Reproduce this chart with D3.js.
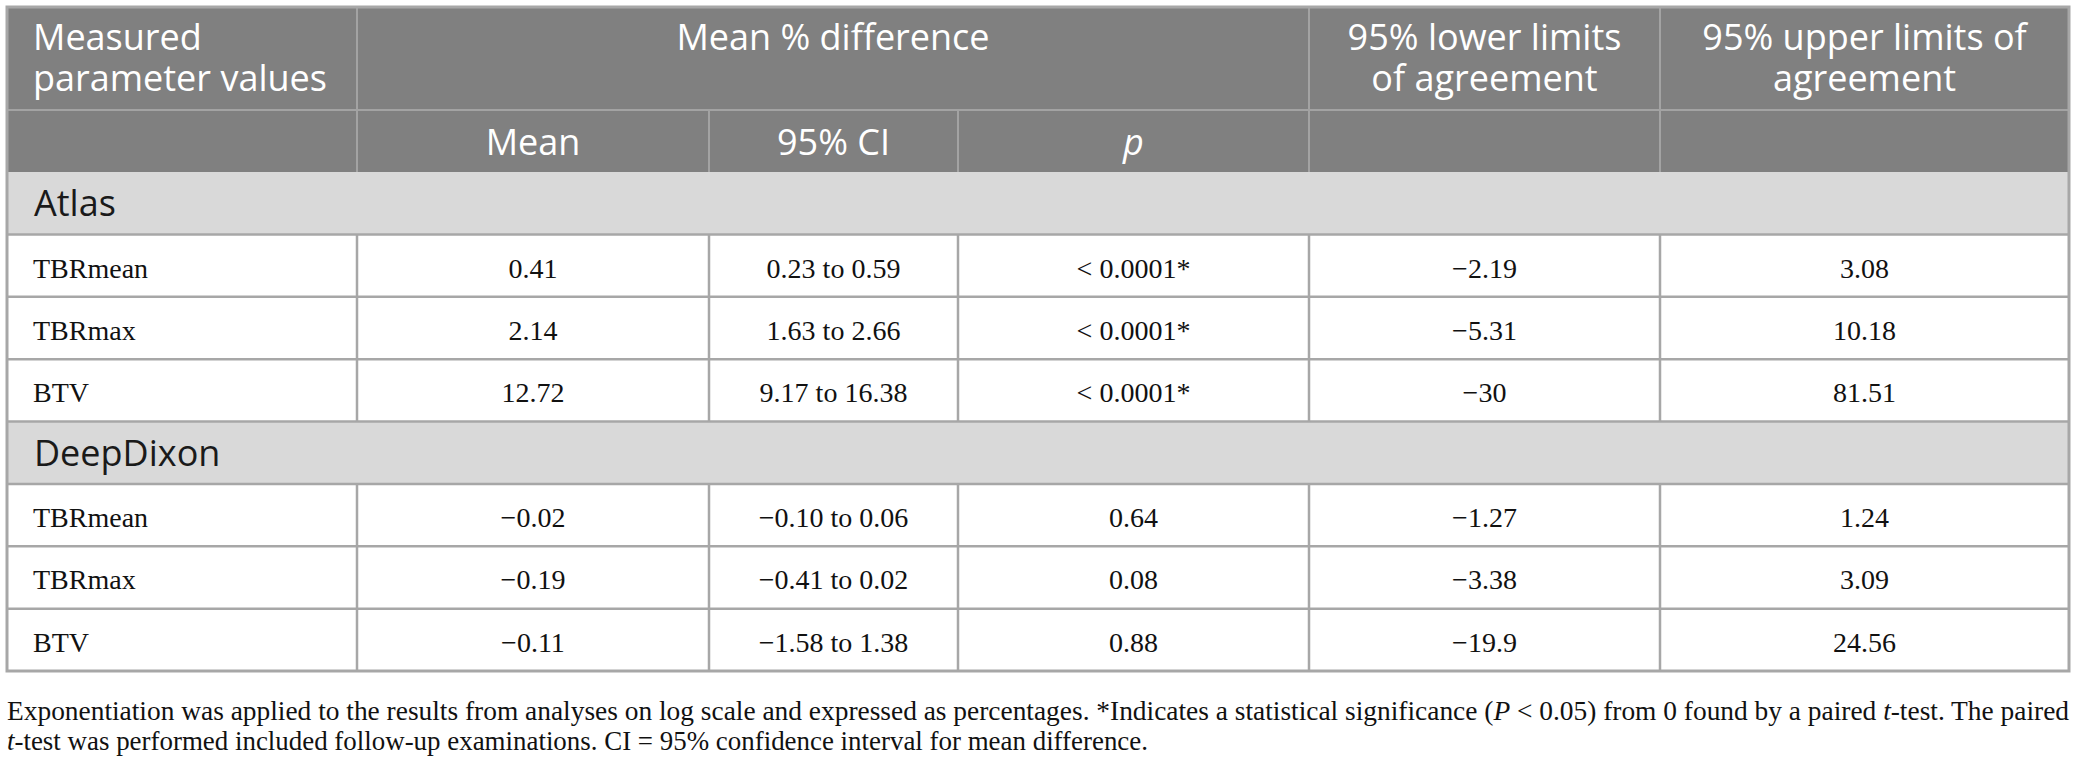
<!DOCTYPE html>
<html>
<head>
<meta charset="utf-8">
<script src="https://cdn.jsdelivr.net/npm/d3@7"></script>
<style>
  body { margin: 0; background: #fff; }
  svg { display: block; }
</style>
</head>
<body>
<div id="table1"></div>
<script>
// table data
var groups = ["Atlas", "DeepDixon"];
var params = ["TBRmean", "TBRmax", "BTV"];
var meanDiff = [[0.41, 2.14, 12.72], [-0.02, -0.19, -0.11]];
var ciLow = [[0.23, 1.63, 9.17], [-0.10, -0.41, -1.58]];
var ciHigh = [[0.59, 2.66, 16.38], [0.06, 0.02, 1.38]];
var pValues = [["< 0.0001*", "< 0.0001*", "< 0.0001*"], ["0.64", "0.08", "0.88"]];
var lowerLoA = [[-2.19, -5.31, -30], [-1.27, -3.38, -19.9]];
var upperLoA = [[3.08, 10.18, 81.51], [1.24, 3.09, 24.56]];

var headerTop = [["Measured", "parameter values"], ["Mean % difference"], ["95% lower limits", "of agreement"], ["95% upper limits of", "agreement"]];
var headerSub = ["", "Mean", "95% CI", "p", "", ""];

var width = 2078, height = 762;
var colWidths = [350, 352, 249, 351, 351, 409];
var tLeft = 7, tTop = 7, headMid = 110, headBottom = 172, tBottom = 671;
var edges = [tLeft].concat(Array.from(d3.cumsum(colWidths), d => d + tLeft));
var tRight = edges[edges.length - 1];

var sans = "'Open Sans', 'Noto Sans', sans-serif";
var serif = "'Liberation Serif', 'DejaVu Serif', serif";
var lineCol = "#a7a7a7";

// format numbers with a real minus sign, keeping the decimals as printed
function fmt(v) {
  var s = String(Math.abs(v));
  if (Math.abs(v) === 0.1) s = "0.10";
  return (v < 0 ? "\u2212" : "") + s;
}

// build rows: group label rows and data rows
var rows = [];
groups.forEach(function(g, gi) {
  rows.push({type: "group", label: g});
  params.forEach(function(p, pi) {
    rows.push({type: "data", cells: [
      p,
      fmt(meanDiff[gi][pi]),
      fmt(ciLow[gi][pi]) + " to " + fmt(ciHigh[gi][pi]),
      pValues[gi][pi],
      fmt(lowerLoA[gi][pi]),
      fmt(upperLoA[gi][pi])
    ]});
  });
});

var y = d3.scaleBand()
    .domain(d3.range(rows.length))
    .range([headBottom, tBottom]);

var svg = d3.select("#table1").append("svg")
    .attr("width", width)
    .attr("height", height);

// header background
svg.append("rect")
    .attr("x", tLeft).attr("y", tTop)
    .attr("width", tRight - tLeft).attr("height", headBottom - tTop)
    .attr("fill", "#808080");

// group rows background
svg.selectAll("rect.grp")
    .data(rows.map((r, i) => ({r: r, i: i})).filter(d => d.r.type == "group"))
    .join("rect")
    .attr("class", "grp")
    .attr("x", tLeft)
    .attr("y", d => y(d.i))
    .attr("width", tRight - tLeft)
    .attr("height", y.bandwidth())
    .attr("fill", "#d9d9d9");

// header lines
var hl = "#a3a3a3";
svg.append("line").attr("x1", tLeft).attr("x2", tRight).attr("y1", headMid).attr("y2", headMid)
    .attr("stroke", hl).attr("stroke-width", 2);
[1, 4, 5].forEach(function(k) {
  svg.append("line").attr("x1", edges[k]).attr("x2", edges[k]).attr("y1", tTop).attr("y2", headMid)
      .attr("stroke", hl).attr("stroke-width", 2);
});
edges.slice(1, -1).forEach(function(e) {
  svg.append("line").attr("x1", e).attr("x2", e).attr("y1", headMid).attr("y2", headBottom)
      .attr("stroke", hl).attr("stroke-width", 2);
});

// header text row 1
var headCenters = [null, (edges[1] + edges[4]) / 2, (edges[4] + edges[5]) / 2, (edges[5] + edges[6]) / 2];
headerTop.forEach(function(lines, k) {
  var t = svg.append("text")
      .attr("font-family", sans).attr("font-size", 36).attr("fill", "#fff")
      .attr("text-anchor", k == 0 ? "start" : "middle");
  lines.forEach(function(l, j) {
    t.append("tspan")
        .attr("x", k == 0 ? 33 : headCenters[k])
        .attr("y", 50 + j * 41)
        .text(l);
  });
});

// header text row 2
svg.selectAll("text.sub")
    .data(headerSub)
    .join("text")
    .attr("class", "sub")
    .attr("x", (d, i) => (edges[i] + edges[i + 1]) / 2)
    .attr("y", 155)
    .attr("text-anchor", "middle")
    .attr("font-family", sans).attr("font-size", 36).attr("fill", "#fff")
    .attr("font-style", d => d == "p" ? "italic" : "normal")
    .text(d => d);

// body lines
var rowEdges = d3.range(rows.length + 1).map(i => i < rows.length ? y(i) : y.range()[1]);
rowEdges.slice(1, -1).forEach(function(ry) {
  svg.append("line").attr("x1", tLeft).attr("x2", tRight).attr("y1", ry).attr("y2", ry)
      .attr("stroke", lineCol).attr("stroke-width", 2.5);
});
rows.forEach(function(r, i) {
  if (r.type != "data") return;
  edges.slice(1, -1).forEach(function(e) {
    svg.append("line").attr("x1", e).attr("x2", e).attr("y1", y(i)).attr("y2", y(i) + y.bandwidth())
        .attr("stroke", lineCol).attr("stroke-width", 2.5);
  });
});

// outer border
svg.append("rect")
    .attr("x", tLeft).attr("y", tTop)
    .attr("width", tRight - tLeft).attr("height", tBottom - tTop)
    .attr("fill", "none").attr("stroke", lineCol).attr("stroke-width", 3);

// group labels
rows.forEach(function(r, i) {
  if (r.type != "group") return;
  svg.append("text")
      .attr("x", 34).attr("y", y(i) + y.bandwidth() / 2 + 13)
      .attr("font-family", sans).attr("font-size", 36).attr("fill", "#1a1a1a")
      .text(r.label);
});

// data cells
rows.forEach(function(r, i) {
  if (r.type != "data") return;
  svg.selectAll(null)
      .data(r.cells)
      .join("text")
      .attr("x", (d, k) => k == 0 ? 33 : (edges[k] + edges[k + 1]) / 2)
      .attr("y", y(i) + y.bandwidth() / 2 + 12)
      .attr("text-anchor", (d, k) => k == 0 ? "start" : "middle")
      .attr("font-family", serif).attr("font-size", 28).attr("fill", "#111")
      .text(d => d);
});

// footnote
var foot1 = svg.append("text")
    .attr("x", 7).attr("y", 720)
    .attr("font-family", serif).attr("font-size", 28).attr("fill", "#111")
    .attr("textLength", 2062).attr("lengthAdjust", "spacingAndGlyphs");
foot1.append("tspan").text("Exponentiation was applied to the results from analyses on log scale and expressed as percentages. *Indicates a statistical significance (");
foot1.append("tspan").attr("font-style", "italic").text("P");
foot1.append("tspan").text(" < 0.05) from 0 found by a paired ");
foot1.append("tspan").attr("font-style", "italic").text("t");
foot1.append("tspan").text("-test. The paired");

var foot2 = svg.append("text")
    .attr("x", 7).attr("y", 750)
    .attr("font-family", serif).attr("font-size", 28).attr("fill", "#111")
    .attr("textLength", 1141).attr("lengthAdjust", "spacingAndGlyphs");
foot2.append("tspan").attr("font-style", "italic").text("t");
foot2.append("tspan").text("-test was performed included follow-up examinations. CI = 95% confidence interval for mean difference.");
</script>
</body>
</html>
